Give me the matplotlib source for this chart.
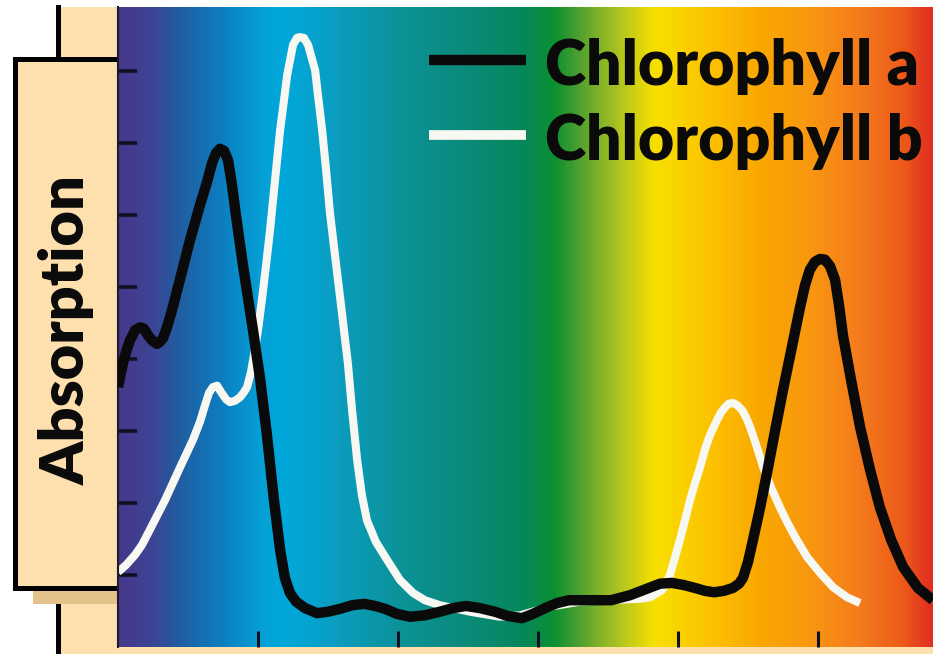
import matplotlib
matplotlib.use("Agg")
import matplotlib.pyplot as plt
import numpy as np
from matplotlib.colors import LinearSegmentedColormap
from matplotlib.patches import Rectangle

# wavelength (nm) and absorption
wl_a = [400.0, 401.1, 402.1, 403.2, 404.3, 406.1, 407.9, 409.3, 410.7, 412.1,
        413.9, 415.0, 416.1, 417.5, 419.3, 422.1, 425.7, 429.3, 431.8, 433.6,
        435.0, 436.4, 437.9, 439.3, 440.7, 442.1, 444.6, 448.2, 450.7, 453.2,
        455.7, 457.9, 459.6, 461.4, 463.6, 466.8, 471.1, 475.0, 479.3, 483.6,
        487.9, 491.8, 495.4, 499.6, 504.3, 509.6, 515.0, 519.6, 524.3, 529.3,
        534.6, 539.3, 544.3, 548.2, 552.5, 556.8, 561.1, 568.6, 576.1, 582.9,
        589.6, 593.6, 597.9, 602.1, 606.1, 609.6, 612.9, 616.4, 619.6, 621.8,
        623.2, 625.0, 626.8, 629.3, 631.8, 634.6, 637.5, 640.7, 643.6, 645.4,
        647.1, 648.9, 650.7, 652.5, 654.3, 656.1, 657.5, 658.9, 661.8, 665.0,
        668.6, 672.1, 676.1, 680.4, 685.7, 691.1]
abs_a = [3.61, 3.82, 3.99, 4.14, 4.26, 4.40, 4.44, 4.42, 4.33, 4.26,
         4.21, 4.24, 4.29, 4.44, 4.68, 5.10, 5.65, 6.14, 6.46, 6.72,
         6.86, 6.92, 6.89, 6.76, 6.42, 6.00, 5.31, 4.40, 3.74, 2.94,
         2.04, 1.35, 0.96, 0.75, 0.63, 0.54, 0.47, 0.49, 0.53, 0.58,
         0.60, 0.57, 0.53, 0.46, 0.42, 0.44, 0.49, 0.54, 0.57, 0.54,
         0.49, 0.43, 0.40, 0.46, 0.54, 0.61, 0.65, 0.65, 0.65, 0.72,
         0.82, 0.88, 0.89, 0.86, 0.82, 0.78, 0.76, 0.78, 0.82, 0.88,
         0.96, 1.18, 1.49, 1.93, 2.42, 2.99, 3.57, 4.17, 4.72, 5.03,
         5.24, 5.35, 5.39, 5.38, 5.29, 5.10, 4.75, 4.33, 3.71, 3.06,
         2.46, 1.94, 1.49, 1.11, 0.82, 0.65]

wl_b = [400.0, 402.9, 406.1, 408.6, 411.4, 416.8, 422.1, 426.8, 429.3, 431.1,
        432.5, 433.9, 435.4, 436.8, 438.6, 440.0, 441.8, 443.6, 445.0, 446.1,
        447.5, 448.9, 450.0, 451.4, 452.9, 454.3, 456.1, 457.9, 459.3, 460.4,
        462.5, 463.9, 465.0, 466.4, 467.9, 470.4, 471.4, 472.9, 474.3, 475.7,
        477.5, 479.3, 480.7, 482.1, 483.6, 485.4, 487.1, 488.9, 492.1, 496.1,
        500.7, 505.4, 509.6, 515.0, 525.7, 536.4, 543.6, 554.3, 565.0, 575.7,
        586.4, 590.0, 592.1, 594.3, 595.7, 597.1, 598.9, 600.7, 602.5, 604.3,
        606.1, 607.9, 609.6, 611.4, 613.9, 615.4, 616.8, 618.2, 619.6, 621.1,
        622.9, 624.3, 625.7, 627.9, 630.4, 633.2, 636.4, 638.9, 641.8, 646.1,
        650.7, 655.4, 660.4, 665.0]
abs_b = [1.04, 1.14, 1.28, 1.42, 1.63, 2.04, 2.49, 2.88, 3.13, 3.36,
         3.53, 3.61, 3.63, 3.54, 3.44, 3.40, 3.42, 3.47, 3.54, 3.61,
         3.82, 4.13, 4.40, 4.82, 5.31, 5.79, 6.49, 7.18, 7.60, 7.94,
         8.36, 8.46, 8.47, 8.46, 8.36, 8.01, 7.67, 7.18, 6.63, 6.03,
         5.44, 4.86, 4.40, 3.94, 3.29, 2.60, 2.11, 1.76, 1.46, 1.21,
         0.93, 0.75, 0.65, 0.58, 0.49, 0.42, 0.44, 0.56, 0.63, 0.65,
         0.67, 0.69, 0.74, 0.79, 0.88, 1.00, 1.24, 1.49, 1.76, 2.04,
         2.28, 2.50, 2.74, 2.94, 3.15, 3.26, 3.33, 3.38, 3.39, 3.36,
         3.29, 3.19, 3.06, 2.81, 2.50, 2.22, 1.94, 1.74, 1.53, 1.25,
         1.03, 0.83, 0.69, 0.61]

x_ticks = [450, 500, 550, 600, 650]
y_ticks = [1, 2, 3, 4, 5, 6, 7, 8]
series_names = ["Chlorophyll a", "Chlorophyll b"]

# spectrum background colours (wavelength, colour)
spec_wl = [400, 411.4, 422.1, 436.4, 450.7, 459.6, 475.7, 500.7, 525.7, 545.4,
           556.1, 565, 579.3, 591.8, 607.9, 629.3, 647.1, 665, 681.1, 691.0]
spec_col = ["#46388a", "#3c4494", "#1f5fa2", "#0d7ec0", "#05a0d6", "#00a8da",
            "#0a9ec4", "#0c9298", "#0a8a78", "#05875a", "#0c9030", "#50a030",
            "#b0c420", "#f8e000", "#fcc800", "#faa800", "#f89810", "#f57c1c",
            "#ec5a1a", "#e03020"]

W, H = 933, 654
beige = "#fde0ae"
ink = "#0a0a0a"
chalk = "#f8f8f2"
font = ["Lato", "DejaVu Sans"]
fig = plt.figure(figsize=(W / 100, H / 100), dpi=100)
fig.patch.set_facecolor("white")

def fx(px):
    return px / W

def fy(py):
    return 1 - py / H

# left beige strip, the black guide line and the label box
fig.add_artist(Rectangle((fx(60), 0), fx(118 - 60), fy(7), transform=fig.transFigure,
                         facecolor=beige, edgecolor="none", zorder=-5))
fig.add_artist(Rectangle((fx(60), 0), fx(W - 60), fy(647), transform=fig.transFigure,
                         facecolor=beige, edgecolor="none", zorder=-5))
fig.add_artist(plt.Line2D([fx(57.5), fx(57.5)], [fy(7), fy(57)], transform=fig.transFigure,
                          color="black", lw=3.6, zorder=-4))
fig.add_artist(plt.Line2D([fx(57.5), fx(57.5)], [fy(603), 0], transform=fig.transFigure,
                          color="black", lw=3.6, zorder=-4))
fig.add_artist(Rectangle((fx(33), fy(604)), fx(118 - 33), fy(590) - fy(604),
                         transform=fig.transFigure, facecolor="#e4c28c",
                         edgecolor="none", zorder=-4))
fig.add_artist(Rectangle((fx(15), fy(588)), fx(125 - 15), fy(59) - fy(588),
                         transform=fig.transFigure, facecolor=beige,
                         edgecolor="black", lw=3.6, zorder=-3))
fig.text(fx(85), fy(330), "Absorption", rotation=90, rotation_mode="anchor",
         ha="center", va="baseline", fontsize=44, fontweight="heavy",
         family=font, color=ink)

ax = fig.add_axes([fx(118), fy(647), fx(W - 118), fy(7) - fy(647)])
xmax = 400 + (W - 118) * 50 / 140
ymax = 640 / 72
stops = [(w - 400) / (spec_wl[-1] - 400) for w in spec_wl]
cmap = LinearSegmentedColormap.from_list("spec", list(zip(stops, spec_col)))
ax.imshow(np.linspace(0, 1, 600)[None, :], cmap=cmap, aspect="auto",
          extent=[400, xmax, 0, ymax], interpolation="bilinear", zorder=0)

ax.plot(wl_b, abs_b, color=chalk, lw=5.8, solid_joinstyle="round",
        solid_capstyle="butt", zorder=2, label=series_names[1])
ax.plot(wl_a, abs_a, color=ink, lw=7.5, solid_joinstyle="round",
        solid_capstyle="butt", zorder=3, label=series_names[0])

ax.set_xlim(400, xmax)
ax.set_ylim(0, ymax)
ax.set_xticks(x_ticks)
ax.set_yticks(y_ticks)
ax.set_xticklabels([])
ax.set_yticklabels([])
ax.tick_params(axis="y", direction="in", length=13.5, width=2.6, color="#101025")
ax.tick_params(axis="x", direction="in", length=11.5, width=2.2, color="#101025")
for s in ["top", "right", "bottom"]:
    ax.spines[s].set_visible(False)
ax.spines["left"].set_linewidth(1.5)
ax.spines["left"].set_color("#1a1a30")

# legend drawn by hand in figure space
fig.add_artist(plt.Line2D([fx(429), fx(526)], [fy(60), fy(60)], transform=fig.transFigure,
                          color=ink, lw=7.5, solid_capstyle="butt"))
fig.add_artist(plt.Line2D([fx(429), fx(526)], [fy(135), fy(135)], transform=fig.transFigure,
                          color=chalk, lw=7, solid_capstyle="butt"))
fig.text(fx(545), fy(85), series_names[0], ha="left", va="baseline", fontsize=45,
         fontweight="heavy", family=font, color=ink)
fig.text(fx(545), fy(160), series_names[1], ha="left", va="baseline", fontsize=45,
         fontweight="heavy", family=font, color=ink)

fig.savefig("out.png", dpi=100)
